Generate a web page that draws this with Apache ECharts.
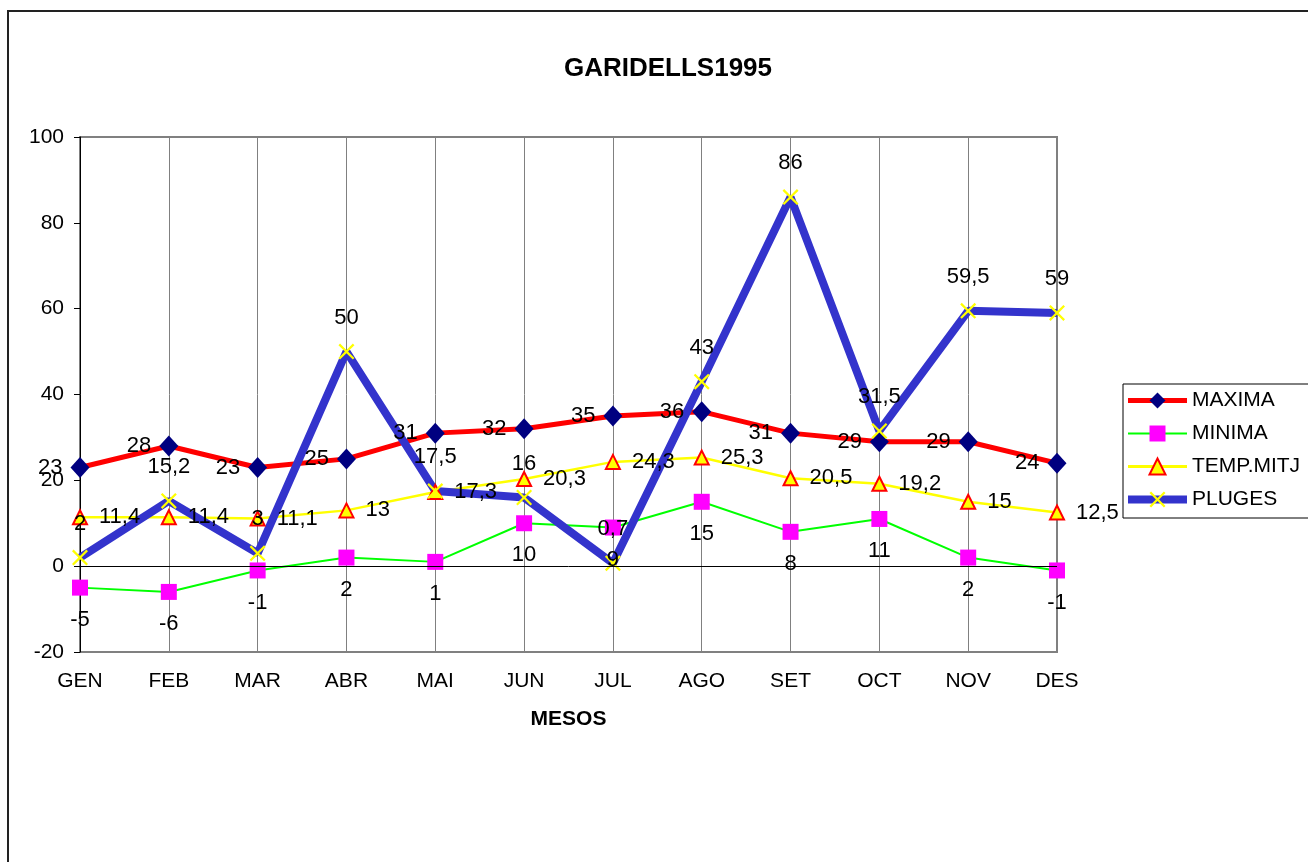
<!DOCTYPE html>
<html>
<head>
<meta charset="utf-8">
<script src="https://cdn.jsdelivr.net/npm/echarts@6/dist/echarts.min.js"></script>
<style>
  html, body { margin: 0; padding: 0; background: #fff; }
  #chart { width: 1308px; height: 862px; }
</style>
</head>
<body>
<div id="chart"></div>
<script>
// dades
const mesos = ['GEN', 'FEB', 'MAR', 'ABR', 'MAI', 'JUN', 'JUL', 'AGO', 'SET', 'OCT', 'NOV', 'DES'];
const maxima = [23, 28, 23, 25, 31, 32, 35, 36, 31, 29, 29, 24];
const minima = [-5, -6, -1, 2, 1, 10, 9, 15, 8, 11, 2, -1];
const tempMitj = [11.4, 11.4, 11.1, 13, 17.3, 20.3, 24.3, 25.3, 20.5, 19.2, 15, 12.5];
const pluges = [2, 15.2, 3, 50, 17.5, 16, 0.7, 43, 86, 31.5, 59.5, 59];

const FONT = '"Liberation Sans", Arial, sans-serif';
const crossPath = 'path://M0,1L1,0L5,4L9,0L10,1L6,5L10,9L9,10L5,6L1,10L0,9L4,5Z';

function coma(p) {
    return String(p.value).replace('.', ',');
}

function lbl(position, distance) {
    return {
        show: true,
        position: position,
        distance: distance,
        formatter: coma,
        color: '#000',
        fontSize: 22,
        fontFamily: FONT
    };
}

const chart = echarts.init(document.getElementById('chart'));

chart.setOption({
    animation: false,
    backgroundColor: '#fff',
    title: {
        text: 'GARIDELLS1995',
        left: 668,
        textAlign: 'center',
        top: 56,
        padding: 0,
        textStyle: { fontSize: 26, fontWeight: 'bold', color: '#000', fontFamily: FONT }
    },
    graphic: [{
        type: 'rect',
        shape: { x: 8, y: 11, width: 1400, height: 900 },
        style: { fill: 'none', stroke: '#222', lineWidth: 2 },
        silent: true
    }],
    legend: {
        orient: 'vertical',
        left: 1123,
        top: 384,
        padding: [6, 30, 8, 1],
        itemWidth: 59,
        itemHeight: 20,
        itemGap: 12,
        borderColor: '#000',
        borderWidth: 1,
        textStyle: { fontSize: 21, lineHeight: 21, color: '#000', fontFamily: FONT },
        data: [
            { name: 'MAXIMA', lineStyle: { width: 5 } },
            { name: 'MINIMA', lineStyle: { width: 2 } },
            { name: 'TEMP.MITJ', lineStyle: { width: 3 } },
            { name: 'PLUGES', lineStyle: { width: 8 } }
        ]
    },
    grid: {
        left: 80,
        right: 251,
        top: 137,
        bottom: 210,
        show: true,
        borderColor: '#808080',
        borderWidth: 2
    },
    xAxis: {
        type: 'category',
        data: mesos,
        boundaryGap: false,
        name: 'MESOS',
        nameLocation: 'middle',
        nameGap: 57,
        nameTextStyle: { fontSize: 21, fontWeight: 'bold', color: '#000', fontFamily: FONT },
        axisLine: { onZero: false, show: false },
        axisTick: { show: false },
        axisLabel: { margin: 19, fontSize: 21, color: '#000', fontFamily: FONT },
        splitLine: { show: true, lineStyle: { color: '#808080', width: 1 } }
    },
    yAxis: {
        type: 'value',
        min: -20,
        max: 100,
        interval: 20,
        axisLine: { show: true, lineStyle: { color: '#000', width: 1 } },
        axisTick: { show: true, inside: false, length: 6, lineStyle: { color: '#000' } },
        axisLabel: { margin: 16, fontSize: 21, color: '#000', fontFamily: FONT },
        splitLine: { show: false }
    },
    series: [
        {
            name: 'MAXIMA',
            type: 'line',
            data: maxima,
            symbol: 'diamond',
            symbolSize: [19, 21],
            lineStyle: { color: '#ff0000', width: 5 },
            itemStyle: { color: '#000080' },
            label: lbl('left', 8),
            markLine: {
                silent: true,
                symbol: 'none',
                label: { show: false },
                lineStyle: { color: '#000', width: 1, type: 'solid' },
                data: [{ yAxis: 0 }]
            }
        },
        {
            name: 'MINIMA',
            type: 'line',
            data: minima,
            symbol: 'rect',
            symbolSize: 16,
            lineStyle: { color: '#00ff00', width: 2 },
            itemStyle: { color: '#ff00ff' },
            label: lbl('bottom', 13)
        },
        {
            name: 'TEMP.MITJ',
            type: 'line',
            data: tempMitj,
            symbol: 'triangle',
            symbolSize: 14,
            lineStyle: { color: '#ffff00', width: 2.5 },
            itemStyle: { color: '#ffff00', borderColor: '#ff0000', borderWidth: 2 },
            label: lbl('right', 11)
        },
        {
            name: 'PLUGES',
            type: 'line',
            data: pluges,
            symbol: crossPath,
            symbolSize: 16,
            lineStyle: { color: '#3333cc', width: 8 },
            itemStyle: { color: '#ffff00' },
            label: lbl('top', 15)
        }
    ]
});
</script>
</body>
</html>
